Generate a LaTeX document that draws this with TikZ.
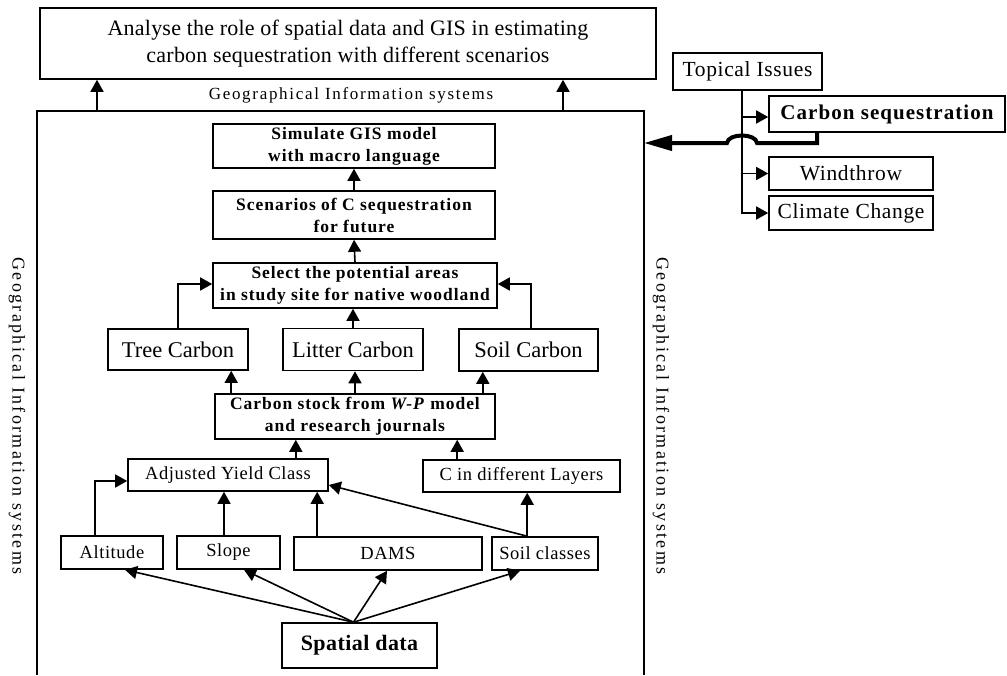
\documentclass[tikz,border=0pt]{standalone}
\usepackage{fontspec}
\setmainfont{Liberation Serif}
\usetikzlibrary{arrows.meta,calc}
\begin{document}
\begin{tikzpicture}[x=1pt,y=-1pt,
  box/.style={draw,line width=1.6pt,inner sep=0pt,align=center},
  arr/.style={line width=1.6pt,-{Triangle[length=12pt,width=13pt]}},
  fbig/.style={font=\fontsize{22}{27}\selectfont\addfontfeatures{LetterSpace=1}},
  fnode/.style={font=\fontsize{18.5}{22}\selectfont\addfontfeatures{LetterSpace=3}},
  fcarb/.style={font=\fontsize{22.5}{26}\selectfont},
  fside/.style={font=\fontsize{21.5}{24}\selectfont\addfontfeatures{LetterSpace=3}},
  fbold/.style={font=\fontsize{17.5}{22}\selectfont\bfseries\addfontfeatures{LetterSpace=5.5}},
  fgis/.style={font=\fontsize{17}{20}\selectfont\addfontfeatures{LetterSpace=10}},
  fgisv/.style={font=\fontsize{18}{21}\selectfont\addfontfeatures{LetterSpace=13}},
]
\useasboundingbox (0,0) rectangle (1007,675);

% outer GIS frame (open at the bottom)
\coordinate (gisTL) at (37,111);
\coordinate (gisTR) at (644,111);
\coordinate (gisR) at (644,143);
\draw[line width=1.5pt] (37,675) -- (gisTL) -- (gisTR) -- (644,675);

% goal box
\node[box,fbig,minimum width=616pt,minimum height=71pt] (goal) at (348,43.5)
  {Analyse the role of spatial data and GIS in estimating\\carbon sequestration with different scenarios};
\node[fgis] (gistop) at (351,95) {Geographical Information systems};
\node[fgisv,rotate=-90] (gisleft) at (17,416) {Geographical Information systems};
\node[fgisv,rotate=-90] (gisright) at (661,416) {Geographical Information systems};
\coordinate (up1) at (97,111);
\coordinate (up2) at (563,111);
\draw[arr] (up1) -- (up1 |- goal.south);
\draw[arr] (up2) -- (up2 |- goal.south);

% model chain
\node[box,fbold,minimum width=282pt,minimum height=44pt] (simulate) at (354,146)
  {Simulate GIS model\\with macro language};
\node[box,fbold,minimum width=282pt,minimum height=48pt] (scen) at (354,215)
  {Scenarios of C sequestration\\for future};
\node[box,fbold,minimum width=284pt,minimum height=45pt] (select) at (355,285.5)
  {Select the potential areas\\in study site for native woodland};
\node[box,fcarb,minimum width=140pt,minimum height=41pt] (tree) at (178,349.5) {Tree Carbon};
\node[box,fcarb,minimum width=140pt,minimum height=42pt] (litter) at (353,349.5) {Litter Carbon};
\node[box,fcarb,minimum width=139pt,minimum height=42pt] (soilc) at (528.5,350) {Soil Carbon};
\node[box,fbold,minimum width=280pt,minimum height=45pt] (cstock) at (355,416.5)
  {Carbon stock from \textit{W-P} model\\and research journals};
\node[box,fnode,minimum width=200pt,minimum height=32pt] (ayc) at (228,475) {Adjusted Yield Class};
\node[box,fnode,minimum width=197pt,minimum height=32pt] (cdl) at (521.5,476) {C in different Layers};
\node[box,fnode,minimum width=102pt,minimum height=33pt] (alt) at (112,552.5) {Altitude};
\node[box,fnode,minimum width=103pt,minimum height=33pt] (slope) at (228.5,552.5) {Slope};
\node[box,fnode,minimum width=188pt,minimum height=33pt] (dams) at (388,553.5) {DAMS};
\node[box,fnode,minimum width=106pt,minimum height=33pt] (soilcl) at (545,553.5) {Soil classes};
\node[box,font=\fontsize{22}{26}\selectfont\bfseries\addfontfeatures{LetterSpace=2},minimum width=155pt,minimum height=45pt] (spatial) at (359.5,645.5) {Spatial data};

\draw[arr] (scen.north) -- (simulate.south);
\draw[arr] (select.north) -- (scen.south);
\draw[arr] (litter.north) -- (litter.north |- select.south);
\draw[arr] (tree.north) |- ([yshift=1.5pt]select.west);
\draw[arr] ([xshift=2.5pt]soilc.north) |- ([yshift=1.5pt]select.east);

\coordinate (cs1) at ([xshift=17pt]cstock.north west);
\coordinate (cs3) at ([xshift=-13pt]cstock.north east);
\draw[arr] (cs1) -- (cs1 |- tree.south);
\draw[arr] (cstock.north) -- (cstock.north |- litter.south);
\draw[arr] (cs3) -- (cs3 |- soilc.south);

\coordinate (ay1) at ([xshift=-33pt]ayc.north east);
\coordinate (cd1) at ([xshift=35pt]cdl.north west);
\draw[arr] (ay1) -- (ay1 |- cstock.south);
\draw[arr] (cd1) -- (cd1 |- cstock.south);

\coordinate (al1) at ([xshift=35pt]alt.north west);
\coordinate (sl1) at ([xshift=-4.5pt]slope.north);
\coordinate (da1) at ([xshift=24pt]dams.north west);
\coordinate (so1) at ([xshift=36pt]soilcl.north west);
\draw[arr] (al1) |- ([yshift=-6pt]ayc.west);
\draw[arr] (sl1) -- (sl1 |- ayc.south);
\draw[arr] (da1) -- (da1 |- ayc.south);
\draw[arr] (so1) -- (so1 |- cdl.south);
\draw[arr] (so1) -- ([yshift=-10pt]ayc.east);

\coordinate (sp) at ([xshift=-6pt]spatial.north);
\draw[arr] (sp) -- ([xshift=13pt]alt.south);
\draw[arr] (sp) -- ([xshift=15.5pt]slope.south);
\draw[arr] (sp) -- ([xshift=-1pt]dams.south);
\draw[arr] (sp) -- ([xshift=-25pt]soilcl.south);

% topical issues
\node[box,fside,minimum width=149pt,minimum height=37pt] (topical) at (747.5,71.5) {Topical Issues};
\node[box,font=\fontsize{21}{24}\selectfont\bfseries\addfontfeatures{LetterSpace=5},minimum width=236pt,minimum height=36pt] (cseq) at (887,114) {Carbon sequestration};
\node[box,fside,minimum width=164pt,minimum height=33pt] (wind) at (851,173.5) {Windthrow};
\node[box,fside,minimum width=164pt,minimum height=34pt] (climate) at (851,213) {Climate Change};

\coordinate (tp) at ([xshift=-5.5pt]topical.south);
\draw[arr] (tp) |- (climate.west);
\draw[arr] (tp |- cseq.west) ++(0,3) -- ([yshift=-3pt]cseq.west);
\draw[arr] (tp |- wind.west) -- (wind.west);

% selected issue fed into the GIS frame, hopping over the branch line
\coordinate (cq) at ([xshift=49pt]cseq.south west);
\coordinate (hop) at (tp |- gisR);
\draw[line width=4pt,line join=miter,-{Triangle[length=28pt,width=15pt]}]
  (cq) -- (cq |- gisR) -- ($(hop)+(15,0)$)
  .. controls ($(hop)+(14,-10)$) and ($(hop)+(-14,-10)$) .. ($(hop)+(-15,0)$)
  -- (gisR);
\end{tikzpicture}
\end{document}
